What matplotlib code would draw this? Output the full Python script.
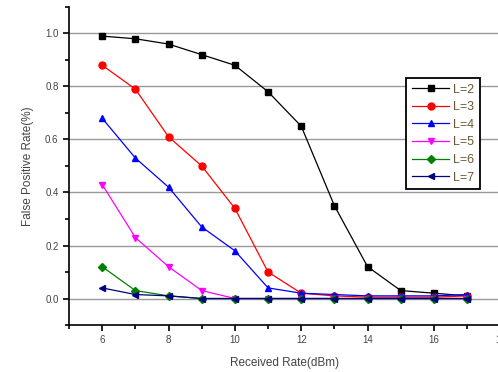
import matplotlib.pyplot as plt

plt.rcParams['font.family'] = ['Liberation Sans', 'DejaVu Sans']

# Received rate values (dBm)
x = [6, 7, 8, 9, 10, 11, 12, 13, 14, 15, 16, 17]

# False positive rate per L
l2 = [0.99, 0.98, 0.96, 0.92, 0.88, 0.78, 0.65, 0.35, 0.12, 0.03, 0.02, 0.01]
l3 = [0.88, 0.79, 0.61, 0.50, 0.34, 0.10, 0.02, 0.01, 0.005, 0.005, 0.005, 0.01]
l4 = [0.68, 0.53, 0.42, 0.27, 0.18, 0.04, 0.02, 0.015, 0.01, 0.01, 0.01, 0.015]
l5 = [0.43, 0.23, 0.12, 0.03, 0.0, 0.0, 0.0, 0.0, 0.0, 0.0, 0.0, 0.0]
l6 = [0.12, 0.03, 0.01, 0.0, 0.0, 0.0, 0.0, 0.0, 0.0, 0.0, 0.0, 0.0]
l7 = [0.04, 0.015, 0.01, 0.0, 0.0, 0.0, 0.0, 0.0, 0.0, 0.0, 0.0, 0.0]

labels = ['L=2', 'L=3', 'L=4', 'L=5', 'L=6', 'L=7']
colors = ['black', 'red', 'blue', 'magenta', 'green', 'navy']
markers = ['s', 'o', '^', 'v', 'D', '<']

xticks = [6, 8, 10, 12, 14, 16, 18]
yticks = [0.0, 0.2, 0.4, 0.6, 0.8, 1.0]

fig = plt.figure(figsize=(4.98, 3.72), dpi=100)
ax = fig.add_axes([0.1386, 0.1263, 0.866, 0.855])

ax.set_xlim(5, 18)
ax.set_ylim(-0.1, 1.1)

for yv in yticks:
    ax.axhline(yv, color='#999999', lw=1.0, zorder=0)

series = [l2, l3, l4, l5, l6, l7]
for ys, lab, c, m in zip(series, labels, colors, markers):
    ms = 4.3 if m == 'D' else 5
    ax.plot(x, ys, color=c, marker=m, ms=ms, lw=0.9, label=lab)

ax.set_xticks(xticks)
ax.set_xticks([5, 7, 9, 11, 13, 15, 17], minor=True)
ax.set_yticks(yticks)
ax.set_yticks([-0.1, 0.1, 0.3, 0.5, 0.7, 0.9, 1.1], minor=True)
ax.set_yticklabels(['%.1f' % v for v in yticks])

ax.tick_params(which='both', direction='out', colors='black', labelcolor='#444444',
               labelsize=7, width=1.2)
ax.tick_params(which='major', length=4)
ax.tick_params(which='minor', length=3)

for s in ['top', 'right']:
    ax.spines[s].set_visible(False)
for s in ['left', 'bottom']:
    ax.spines[s].set_linewidth(1.2)

ax.set_xlabel('Received Rate(dBm)', fontsize=8.5, color='#444444', labelpad=8)
ax.set_ylabel('False Positive Rate(%)', fontsize=8.5, color='#444444', labelpad=8)

leg = ax.legend(loc='upper left', bbox_to_anchor=(0.782, 0.777), fontsize=9,
                fancybox=False, framealpha=1, edgecolor='black',
                handlelength=3.0, handletextpad=0.3, labelspacing=0.45,
                borderpad=0.45, borderaxespad=0)
leg.get_frame().set_linewidth(1.3)
for t in leg.get_texts():
    t.set_color('#6b5a3a')

fig.savefig('out.png', dpi=100)
